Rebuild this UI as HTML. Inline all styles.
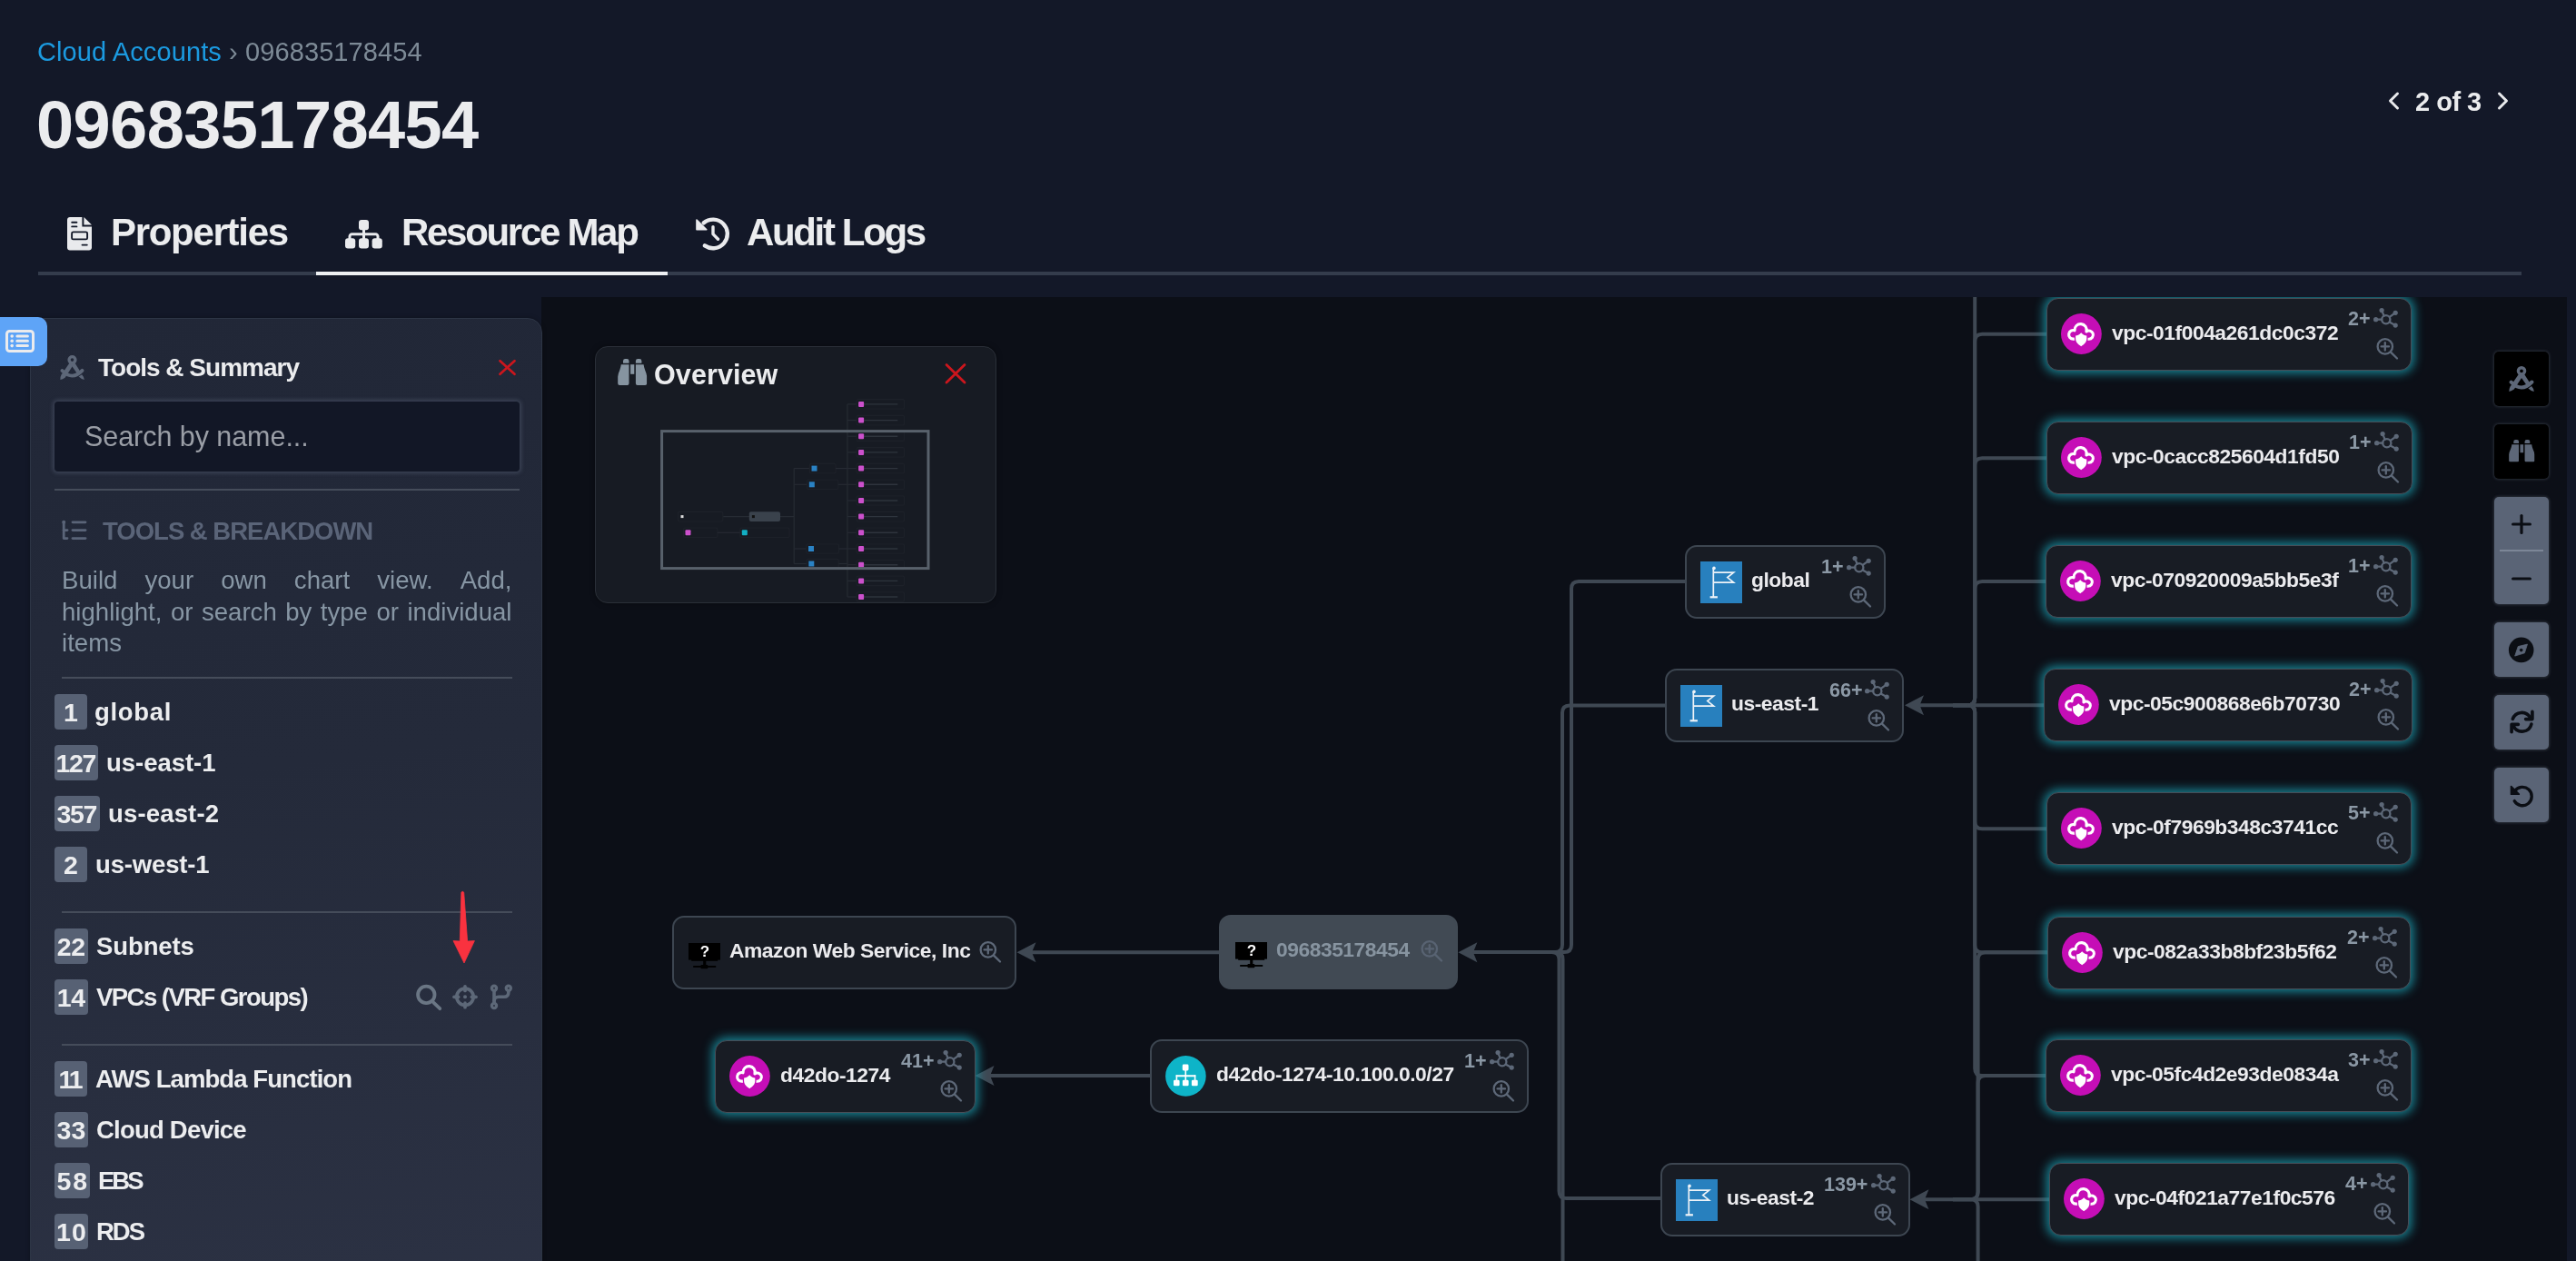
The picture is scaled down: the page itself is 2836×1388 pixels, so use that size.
<!DOCTYPE html>
<html><head><meta charset="utf-8">
<style>
*{margin:0;padding:0;box-sizing:border-box}
html,body{width:2836px;height:1388px;overflow:hidden;background:#131828;font-family:"Liberation Sans",sans-serif}
.a{position:absolute}
.t{position:absolute;white-space:nowrap;line-height:1}
svg.a,svg.ic{position:absolute;overflow:visible}
#canvas{left:596px;top:327px;width:2230px;height:1061px;background:#0c0f17;overflow:hidden;z-index:1}
.node{position:absolute;background:#181c24;border:2px solid #3d4651;border-radius:13px}
.node.glow{border-width:1.5px;border-color:#474d57;box-shadow:0 0 11px 3px rgba(26,150,168,.85)}
.node.grey{background:#414a54;border-color:#414a54}
.nic{position:absolute;left:15px;top:15.5px;overflow:visible}
.nic.fl{left:15px;top:16px}
.nic.mo{left:16px;top:28px}
.lbl{position:absolute;left:71px;top:25.1px;font-size:22.8px;line-height:22.8px;font-weight:bold;color:#ebebee;white-space:nowrap;letter-spacing:-0.45px}
.node .mo ~ .lbl{left:61.4px}
.lbl.g{color:#8794a0}
.cnt{position:absolute;right:44.3px;top:12px;font-size:21.5px;line-height:21.5px;font-weight:bold;color:#8b98a5;white-space:nowrap}
.hub{position:absolute;right:13px;top:9.6px;overflow:visible}
.zm{position:absolute;right:13px;top:43.3px;overflow:visible}
.zm.zc{right:13.9px;top:25.5px}
.grey .zm{opacity:.85}

div{will-change:transform}
.glow .lbl{top:26.1px;left:71px}

</style></head>
<body>
<svg width="0" height="0" style="position:absolute">
<defs>
<symbol id="hub" viewBox="0 0 28 23">
 <g stroke="#5d6878" stroke-width="2.3" fill="none" stroke-linecap="round">
  <circle cx="13.8" cy="12.7" r="4.6"/>
  <line x1="2.5" y1="12.7" x2="9.2" y2="12.7"/>
  <line x1="9.1" y1="2.6" x2="11.6" y2="8.6"/>
  <line x1="24" y1="5.3" x2="17.8" y2="9.9"/>
  <line x1="24" y1="19" x2="17.6" y2="15.6"/>
 </g>
 <g fill="#5d6878"><circle cx="2.6" cy="12.7" r="2.6"/><circle cx="9.1" cy="2.6" r="2.6"/><circle cx="24.2" cy="5.3" r="2.6"/><circle cx="24.2" cy="19.1" r="2.6"/></g>
</symbol>
<symbol id="zoomi" viewBox="0 0 25 25">
 <g stroke="#5d6878" stroke-width="2.3" fill="none" stroke-linecap="round">
  <circle cx="9.8" cy="9.4" r="8.2"/>
  <line x1="16" y1="15.6" x2="23" y2="22.5"/>
  <line x1="5.6" y1="9.4" x2="14" y2="9.4"/>
  <line x1="9.8" y1="5.2" x2="9.8" y2="13.6"/>
 </g>
</symbol>
<symbol id="vpcic" viewBox="0 0 45 45">
 <circle cx="22.4" cy="22.5" r="22.4" fill="#c50eb6"/>
 <path d="M13.4,28.1 A4.8,4.8 0 1 1 15.03,18.78 A6.6,6.6 0 1 1 27.95,19.99 A4.6,4.6 0 1 1 30.8,28.2 Z" fill="none" stroke="#fff" stroke-width="3.1" stroke-linejoin="round"/>
 <path d="M22.2,19.4 C19.6,22.4 17.4,23.1 14.8,23.1 L14.8,27.8 C14.8,32 18,35.3 22.2,37.6 C26.4,35.3 29.6,32 29.6,27.8 L29.6,23.1 C27,23.1 24.8,22.4 22.2,19.4 Z" fill="#c50eb6"/>
 <path d="M22.2,21.2 C20,23.6 18.1,24.4 16.1,24.4 L16.1,27.8 C16.1,31.4 18.7,34.2 22.2,36.2 C25.7,34.2 28.3,31.4 28.3,27.8 L28.3,24.4 C26.3,24.4 24.4,23.6 22.2,21.2 Z" fill="#fff"/>
</symbol>
<symbol id="flagic" viewBox="0 0 46 46">
 <rect width="46" height="46" fill="#2880be"/>
 <g stroke="#eef3f8" fill="none" stroke-width="1.7">
  <line x1="14.3" y1="7" x2="14.3" y2="39.4"/>
  <line x1="10.6" y1="39.3" x2="18.9" y2="39.3" stroke-width="2.2"/>
  <polyline points="14.3,12.2 36.6,12.2 29.8,17.6 36.6,23.1 14.3,23.1"/>
 </g>
 <circle cx="15" cy="7.4" r="1.8" fill="#eef3f8"/>
</symbol>
<symbol id="monic" viewBox="0 0 36 30">
 <rect x="0" y="0" width="35" height="18.6" fill="#000"/>
 <rect x="3.2" y="17" width="29" height="2.8" fill="#000"/>
 <rect x="16.2" y="19" width="3.1" height="6" fill="#000"/>
 <rect x="5.2" y="25" width="25" height="1.9" fill="#000"/>
 <rect x="13.5" y="23.9" width="7.8" height="4.4" rx="0.8" fill="#000"/>
 <text x="18" y="15.2" font-family="Liberation Sans" font-weight="bold" font-size="17" fill="#fff" text-anchor="middle">?</text>
</symbol>
<symbol id="subic" viewBox="0 0 45 45">
 <circle cx="22.4" cy="22.4" r="22.3" fill="#0eb4c8"/>
 <g fill="#fff">
  <rect x="18.8" y="9.6" width="6.7" height="6.8" rx="1.3"/>
  <rect x="21.5" y="16" width="1.6" height="6"/>
  <rect x="11.6" y="21.2" width="21.8" height="2" rx="0.8"/>
  <rect x="11.6" y="21.2" width="1.6" height="6"/>
  <rect x="21.5" y="21.2" width="1.6" height="6"/>
  <rect x="31.8" y="21.2" width="1.6" height="6"/>
  <rect x="9" y="26.8" width="6.6" height="6.5" rx="1.3"/>
  <rect x="18.9" y="26.8" width="6.7" height="6.5" rx="1.3"/>
  <rect x="28.9" y="26.8" width="6.8" height="6.5" rx="1.3"/>
 </g>
</symbol>
<symbol id="compassd" viewBox="0 0 28 28">
 <circle cx="14" cy="5.3" r="3.6" fill="none" stroke="currentColor" stroke-width="3.4"/>
 <path d="M11.3,8.2 L15.9,10.2 L5.8,25.6 Q3.2,27.6 0.4,27.9 Q0.1,25 1.6,22.4 Z" fill="currentColor"/>
 <path d="M16.7,8.2 L12.1,10.2 L19.6,21 L23.2,18.6 Z" fill="currentColor"/>
 <path d="M21.4,24.4 L25,22 Q27.6,24.8 27.8,27.9 Q24.2,27.3 21.4,24.4 Z" fill="currentColor"/>
 <path d="M2.6,17.6 Q14,29.4 25.4,17.5" fill="none" stroke="currentColor" stroke-width="4" stroke-linecap="round"/>
</symbol>
<symbol id="binoc" viewBox="0 0 32.4 29">
 <g fill="currentColor">
 <path d="M6,4.8 L6,2.4 Q6,0 8.4,0 L10.1,0 Q12.5,0 12.5,2.4 L12.5,4.8 Z"/>
 <path d="M19.9,4.8 L19.9,2.4 Q19.9,0 22.3,0 L24,0 Q26.4,0 26.4,2.4 L26.4,4.8 Z"/>
 <rect x="14.1" y="6.2" width="4.2" height="10.6"/>
 <path d="M3.8,6.2 L12.5,6.2 L12.5,27 Q12.5,28.9 10.6,28.9 L2.1,28.9 Q0.2,28.9 0.2,27 L0.2,19.5 Q0.4,16.5 2.2,12.5 Q3.4,9.5 3.8,6.2 Z"/>
 <path d="M28.6,6.2 L19.9,6.2 L19.9,27 Q19.9,28.9 21.8,28.9 L30.3,28.9 Q32.2,28.9 32.2,27 L32.2,19.5 Q32,16.5 30.2,12.5 Q29,9.5 28.6,6.2 Z"/>
 </g>
</symbol>
</defs>
</svg>
<div class="t" style="left:41px;top:42.5px;font-size:29px;color:#1b9ae0;letter-spacing:0.1px">Cloud Accounts <span style="color:#7d8a96">› 096835178454</span></div>
<div class="t" style="left:40px;top:100.5px;font-size:74px;font-weight:bold;color:#ebecee;letter-spacing:-0.6px">096835178454</div>
<svg class="a" style="left:74px;top:239.3px" width="27" height="37" viewBox="0 0 27 37">
 <path d="M3,0 L16.4,0 L16.4,10.5 L27,10.5 L27,33.4 C27,35.1 25.6,36.4 24,36.4 L3,36.4 C1.3,36.4 0,35.1 0,33.4 L0,3 C0,1.3 1.3,0 3,0 Z M18.4,0 L27,8.6 L18.4,8.6 Z" fill="#e9eaed"/>
 <g stroke="#131828" stroke-width="1.9" stroke-linecap="round" fill="none">
  <line x1="5.2" y1="5.8" x2="10.4" y2="5.8"/><line x1="5.2" y1="10.4" x2="10.4" y2="10.4"/>
  <rect x="5.1" y="16.4" width="17" height="8" rx="1.5"/>
  <line x1="16.5" y1="30.6" x2="21.8" y2="30.6"/>
 </g>
</svg>
<div class="t" style="left:121.5px;top:235.2px;font-size:42px;font-weight:bold;color:#ebecee;letter-spacing:-1.3px">Properties</div>
<svg class="a" style="left:380px;top:241.8px" width="41" height="32" viewBox="0 0 41 32">
 <g fill="#e9eaed">
  <rect x="15" y="0" width="11" height="11.2" rx="3"/>
  <rect x="19" y="10" width="3" height="5"/>
  <path d="M7.5,14.2 L33.5,14.2 C35.7,14.2 37.5,16 37.5,18.2 L37.5,21 L34.5,21 L34.5,18.2 C34.5,17.6 34.1,17.2 33.5,17.2 L7.5,17.2 C6.9,17.2 6.5,17.6 6.5,18.2 L6.5,21 L3.5,21 L3.5,18.2 C3.5,16 5.3,14.2 7.5,14.2 Z"/>
  <rect x="19" y="16" width="3" height="5"/>
  <rect x="0" y="20.2" width="11.2" height="11.2" rx="3"/>
  <rect x="15" y="20.2" width="11" height="11.2" rx="3"/>
  <rect x="29.6" y="20.2" width="11.2" height="11.2" rx="3"/>
 </g>
</svg>
<div class="t" style="left:442px;top:235.2px;font-size:42px;font-weight:bold;color:#ebecee;letter-spacing:-2.3px">Resource Map</div>
<svg class="a" style="left:766px;top:239px" width="38" height="37" viewBox="0 0 38 37">
 <path d="M8.84,6.3 A15.8,15.8 0 1 1 9.94,31.34" fill="none" stroke="#e9eaed" stroke-width="4.4" stroke-linecap="round"/>
 <path d="M1,3.1 L1,13.8 L11.8,13.8 Z" fill="#e9eaed" stroke="#e9eaed" stroke-width="1.6" stroke-linejoin="round"/>
 <polyline points="19,10.6 19,18.6 24.5,24.2" fill="none" stroke="#e9eaed" stroke-width="3.4" stroke-linecap="round" stroke-linejoin="round"/>
</svg>
<div class="t" style="left:822px;top:235.2px;font-size:42px;font-weight:bold;color:#ebecee;letter-spacing:-2.35px">Audit Logs</div>
<div class="a" style="left:42px;top:299px;width:2734px;height:4px;background:#343c4c"></div>
<div class="a" style="left:348px;top:299px;width:387px;height:4px;background:#eef0f3"></div>
<svg class="a" style="left:2629px;top:101px" width="13" height="20" viewBox="0 0 13 20"><polyline points="10.5,2 2.5,10 10.5,18" fill="none" stroke="#e9eaed" stroke-width="3" stroke-linecap="round" stroke-linejoin="round"/></svg>
<div class="t" style="left:2659px;top:97.5px;font-size:29px;font-weight:bold;color:#ebecee;letter-spacing:-0.5px">2 of 3</div>
<svg class="a" style="left:2748.5px;top:101px" width="13" height="20" viewBox="0 0 13 20"><polyline points="2.5,2 10.5,10 2.5,18" fill="none" stroke="#e9eaed" stroke-width="3" stroke-linecap="round" stroke-linejoin="round"/></svg>
<div class="a" id="canvas"><svg class="a" style="left:0;top:0" width="2230" height="1061" viewBox="0 0 2230 1061"><g fill="none" stroke="#3f4853" stroke-width="4"><path d="M540,721.3 L746.5,721.3"/><path d="M1026,721 L1126,721"/><path d="M1259,313 L1142,313 Q1134,313 1134,321 L1134,713 Q1134,721 1126,721 L1104,721"/><path d="M1238,449.5 L1132,449.5 Q1124,449.5 1124,457.5 L1124,713 Q1124,721 1116,721 L1104,721"/><path d="M1233,992 L1128.5,992 Q1120.5,992 1120.5,984 L1120.5,729 Q1120.5,721 1112.5,721 L1104,721"/><path d="M1124.5,1073 L1124.5,729 Q1124.5,721 1116.5,721 L1104,721"/><path d="M494,857 L670,857"/><path d="M1517,449.3 L1655,449.3"/><path d="M1657.5,40.8 L1586.2,40.8 Q1578.2,40.8 1578.2,48.8 L1578.2,441 Q1578.2,449.3 1570.2,449.3 L1554,449.3"/><path d="M1657.5,177.2 L1586.2,177.2 Q1578.2,177.2 1578.2,185.2 L1578.2,441 Q1578.2,449.3 1570.2,449.3 L1554,449.3"/><path d="M1657.3,313.0 L1586.2,313.0 Q1578.2,313.0 1578.2,321.0 L1578.2,441 Q1578.2,449.3 1570.2,449.3 L1554,449.3"/><path d="M1657.7,585.2 L1586.2,585.2 Q1578.2,585.2 1578.2,577.2 L1578.2,457 Q1578.2,449.3 1570.2,449.3 L1554,449.3"/><path d="M1659.1,721.3 L1586.2,721.3 Q1578.2,721.3 1578.2,713.3 L1578.2,457 Q1578.2,449.3 1570.2,449.3 L1554,449.3"/><path d="M1657.1,857.1 L1586.2,857.1 Q1578.2,857.1 1578.2,849.1 L1578.2,457 Q1578.2,449.3 1570.2,449.3 L1554,449.3"/><path d="M1578.2,-27 L1578.2,441 Q1578.2,449.3 1570.2,449.3"/><path d="M1523,993.2 L1660,993.2"/><path d="M1659.1,721.3 L1589.6,721.3 Q1581.6,721.3 1581.6,729.3 L1581.6,985 Q1581.6,993.2 1573.6,993.2 L1554,993.2"/><path d="M1657.1,857.1 L1589.6,857.1 Q1581.6,857.1 1581.6,865.1 L1581.6,985 Q1581.6,993.2 1573.6,993.2 L1554,993.2"/><path d="M1581.6,1073 L1581.6,1001 Q1581.6,993.2 1573.6,993.2"/></g><path d="M523.5,721.3 L544.5,710.3 L540.0,721.3 L544.5,732.3 Z" fill="#3f4853"/><path d="M1009.4,721.2 L1030.4,710.2 L1025.9,721.2 L1030.4,732.2 Z" fill="#3f4853"/><path d="M477.5,857 L498.5,846 L494.0,857 L498.5,868 Z" fill="#3f4853"/><path d="M1501,449.3 L1522,438.3 L1517.5,449.3 L1522,460.3 Z" fill="#3f4853"/><path d="M1506.5,993.2 L1527.5,982.2 L1523.0,993.2 L1527.5,1004.2 Z" fill="#3f4853"/></svg><div class="node glow" style="left:1656.5px;top:1.0px;width:402.2px;height:79.5px"><svg class="nic" width="45" height="45" viewBox="0 0 45 45"><use href="#vpcic"/></svg><div class="lbl ">vpc-01f004a261dc0c372</div><div class="cnt">2+</div><svg class="hub" width="28" height="23" viewBox="0 0 28 23"><use href="#hub"/></svg><svg class="zm" width="25" height="25" viewBox="0 0 25 25"><use href="#zoomi"/></svg></div><div class="node glow" style="left:1656.5px;top:137.4px;width:402.7px;height:79.5px"><svg class="nic" width="45" height="45" viewBox="0 0 45 45"><use href="#vpcic"/></svg><div class="lbl ">vpc-0cacc825604d1fd50</div><div class="cnt">1+</div><svg class="hub" width="28" height="23" viewBox="0 0 28 23"><use href="#hub"/></svg><svg class="zm" width="25" height="25" viewBox="0 0 25 25"><use href="#zoomi"/></svg></div><div class="node glow" style="left:1656.3px;top:273.2px;width:403.1px;height:79.5px"><svg class="nic" width="45" height="45" viewBox="0 0 45 45"><use href="#vpcic"/></svg><div class="lbl ">vpc-070920009a5bb5e3f</div><div class="cnt">1+</div><svg class="hub" width="28" height="23" viewBox="0 0 28 23"><use href="#hub"/></svg><svg class="zm" width="25" height="25" viewBox="0 0 25 25"><use href="#zoomi"/></svg></div><div class="node glow" style="left:1654.2px;top:409.1px;width:406.3px;height:79.5px"><svg class="nic" width="45" height="45" viewBox="0 0 45 45"><use href="#vpcic"/></svg><div class="lbl ">vpc-05c900868e6b70730</div><div class="cnt">2+</div><svg class="hub" width="28" height="23" viewBox="0 0 28 23"><use href="#hub"/></svg><svg class="zm" width="25" height="25" viewBox="0 0 25 25"><use href="#zoomi"/></svg></div><div class="node glow" style="left:1656.7px;top:545.4px;width:401.7px;height:79.5px"><svg class="nic" width="45" height="45" viewBox="0 0 45 45"><use href="#vpcic"/></svg><div class="lbl ">vpc-0f7969b348c3741cc</div><div class="cnt">5+</div><svg class="hub" width="28" height="23" viewBox="0 0 28 23"><use href="#hub"/></svg><svg class="zm" width="25" height="25" viewBox="0 0 25 25"><use href="#zoomi"/></svg></div><div class="node glow" style="left:1658.1px;top:681.5px;width:399.7px;height:79.5px"><svg class="nic" width="45" height="45" viewBox="0 0 45 45"><use href="#vpcic"/></svg><div class="lbl ">vpc-082a33b8bf23b5f62</div><div class="cnt">2+</div><svg class="hub" width="28" height="23" viewBox="0 0 28 23"><use href="#hub"/></svg><svg class="zm" width="25" height="25" viewBox="0 0 25 25"><use href="#zoomi"/></svg></div><div class="node glow" style="left:1656.1px;top:817.3px;width:403.1px;height:79.5px"><svg class="nic" width="45" height="45" viewBox="0 0 45 45"><use href="#vpcic"/></svg><div class="lbl ">vpc-05fc4d2e93de0834a</div><div class="cnt">3+</div><svg class="hub" width="28" height="23" viewBox="0 0 28 23"><use href="#hub"/></svg><svg class="zm" width="25" height="25" viewBox="0 0 25 25"><use href="#zoomi"/></svg></div><div class="node glow" style="left:1659.6px;top:953.4px;width:395.9px;height:79.5px"><svg class="nic" width="45" height="45" viewBox="0 0 45 45"><use href="#vpcic"/></svg><div class="lbl ">vpc-04f021a77e1f0c576</div><div class="cnt">4+</div><svg class="hub" width="28" height="23" viewBox="0 0 28 23"><use href="#hub"/></svg><svg class="zm" width="25" height="25" viewBox="0 0 25 25"><use href="#zoomi"/></svg></div><div class="node " style="left:1258.6px;top:272.6px;width:220.7px;height:80.5px"><svg class="nic fl" width="46" height="46" viewBox="0 0 46 46"><use href="#flagic"/></svg><div class="lbl ">global</div><div class="cnt">1+</div><svg class="hub" width="28" height="23" viewBox="0 0 28 23"><use href="#hub"/></svg><svg class="zm" width="25" height="25" viewBox="0 0 25 25"><use href="#zoomi"/></svg></div><div class="node " style="left:1237.2px;top:408.8px;width:263.3px;height:80.5px"><svg class="nic fl" width="46" height="46" viewBox="0 0 46 46"><use href="#flagic"/></svg><div class="lbl ">us-east-1</div><div class="cnt">66+</div><svg class="hub" width="28" height="23" viewBox="0 0 28 23"><use href="#hub"/></svg><svg class="zm" width="25" height="25" viewBox="0 0 25 25"><use href="#zoomi"/></svg></div><div class="node " style="left:1232.0px;top:953.0px;width:274.5px;height:80.5px"><svg class="nic fl" width="46" height="46" viewBox="0 0 46 46"><use href="#flagic"/></svg><div class="lbl ">us-east-2</div><div class="cnt">139+</div><svg class="hub" width="28" height="23" viewBox="0 0 28 23"><use href="#hub"/></svg><svg class="zm" width="25" height="25" viewBox="0 0 25 25"><use href="#zoomi"/></svg></div><div class="node " style="left:144.1px;top:680.5px;width:379.3px;height:81px"><svg class="nic mo" width="36" height="30" viewBox="0 0 36 30"><use href="#monic"/></svg><div class="lbl ">Amazon Web Service, Inc</div><svg class="zm zc" width="25" height="25" viewBox="0 0 25 25"><use href="#zoomi"/></svg></div><div class="node grey" style="left:746.2px;top:680.3px;width:263.0px;height:81.5px"><svg class="nic mo" width="36" height="30" viewBox="0 0 36 30"><use href="#monic"/></svg><div class="lbl g">096835178454</div><svg class="zm zc" width="25" height="25" viewBox="0 0 25 25"><use href="#zoomi"/></svg></div><div class="node glow" style="left:190.8px;top:817.7px;width:286.5px;height:79.5px"><svg class="nic" width="45" height="45" viewBox="0 0 45 45"><use href="#vpcic"/></svg><div class="lbl ">d42do-1274</div><div class="cnt">41+</div><svg class="hub" width="28" height="23" viewBox="0 0 28 23"><use href="#hub"/></svg><svg class="zm" width="25" height="25" viewBox="0 0 25 25"><use href="#zoomi"/></svg></div><div class="node " style="left:669.5px;top:816.9px;width:416.5px;height:80.5px"><svg class="nic" width="45" height="45" viewBox="0 0 45 45"><use href="#subic"/></svg><div class="lbl ">d42do-1274-10.100.0.0/27</div><div class="cnt">1+</div><svg class="hub" width="28" height="23" viewBox="0 0 28 23"><use href="#hub"/></svg><svg class="zm" width="25" height="25" viewBox="0 0 25 25"><use href="#zoomi"/></svg></div><div class="a" style="left:59px;top:54.4px;width:442px;height:282.6px;background:#171b23;border:1.5px solid #2a2f38;border-radius:14px;box-shadow:0 0 6px rgba(0,0,0,.35);z-index:5">
 <svg class="a" style="left:24.2px;top:13.3px;color:#8694a0" width="32.4" height="29" viewBox="0 0 32.4 29"><use href="#binoc"/></svg>
 <div class="t" style="left:64px;top:15.2px;font-size:30.5px;font-weight:bold;color:#ebecee;letter-spacing:0.1px">Overview</div>
 <svg class="a" style="left:384px;top:17.8px" width="24" height="23" viewBox="0 0 24 23"><g stroke="#cc161d" stroke-width="2.8" stroke-linecap="round"><line x1="2" y1="1.6" x2="22" y2="21"/><line x1="22" y1="1.6" x2="2" y2="21"/></g></svg>
 <svg class="a" style="left:0;top:0" width="442" height="283" viewBox="0 0 442 283"><g stroke="#262b33" stroke-width="1.2" fill="none"><line x1="276.9" y1="62.9" x2="276.9" y2="275.0"/><line x1="276.9" y1="62.9" x2="287.1" y2="62.9"/><rect x="287.1" y="57.7" width="52.4" height="10.4" rx="1.6" stroke="#1d2129"/><line x1="295.1" y1="62.9" x2="332.3" y2="62.9" stroke="#2e343d" stroke-width="1.4"/><line x1="276.9" y1="80.6" x2="287.1" y2="80.6"/><rect x="287.1" y="75.4" width="52.4" height="10.4" rx="1.6" stroke="#1d2129"/><line x1="295.1" y1="80.6" x2="332.3" y2="80.6" stroke="#2e343d" stroke-width="1.4"/><line x1="276.9" y1="98.2" x2="287.1" y2="98.2"/><rect x="287.1" y="93.0" width="52.4" height="10.4" rx="1.6" stroke="#1d2129"/><line x1="295.1" y1="98.2" x2="332.3" y2="98.2" stroke="#2e343d" stroke-width="1.4"/><line x1="276.9" y1="115.9" x2="287.1" y2="115.9"/><rect x="287.1" y="110.7" width="52.4" height="10.4" rx="1.6" stroke="#1d2129"/><line x1="295.1" y1="115.9" x2="332.3" y2="115.9" stroke="#2e343d" stroke-width="1.4"/><line x1="276.9" y1="133.6" x2="287.1" y2="133.6"/><rect x="287.1" y="128.4" width="52.4" height="10.4" rx="1.6" stroke="#1d2129"/><line x1="295.1" y1="133.6" x2="332.3" y2="133.6" stroke="#2e343d" stroke-width="1.4"/><line x1="276.9" y1="151.3" x2="287.1" y2="151.3"/><rect x="287.1" y="146.1" width="52.4" height="10.4" rx="1.6" stroke="#1d2129"/><line x1="295.1" y1="151.3" x2="332.3" y2="151.3" stroke="#2e343d" stroke-width="1.4"/><line x1="276.9" y1="169.0" x2="287.1" y2="169.0"/><rect x="287.1" y="163.8" width="52.4" height="10.4" rx="1.6" stroke="#1d2129"/><line x1="295.1" y1="169.0" x2="332.3" y2="169.0" stroke="#2e343d" stroke-width="1.4"/><line x1="276.9" y1="186.6" x2="287.1" y2="186.6"/><rect x="287.1" y="181.4" width="52.4" height="10.4" rx="1.6" stroke="#1d2129"/><line x1="295.1" y1="186.6" x2="332.3" y2="186.6" stroke="#2e343d" stroke-width="1.4"/><line x1="276.9" y1="204.3" x2="287.1" y2="204.3"/><rect x="287.1" y="199.1" width="52.4" height="10.4" rx="1.6" stroke="#1d2129"/><line x1="295.1" y1="204.3" x2="332.3" y2="204.3" stroke="#2e343d" stroke-width="1.4"/><line x1="276.9" y1="222.0" x2="287.1" y2="222.0"/><rect x="287.1" y="216.8" width="52.4" height="10.4" rx="1.6" stroke="#1d2129"/><line x1="295.1" y1="222.0" x2="332.3" y2="222.0" stroke="#2e343d" stroke-width="1.4"/><line x1="276.9" y1="239.7" x2="287.1" y2="239.7"/><rect x="287.1" y="234.5" width="52.4" height="10.4" rx="1.6" stroke="#1d2129"/><line x1="295.1" y1="239.7" x2="332.3" y2="239.7" stroke="#2e343d" stroke-width="1.4"/><line x1="276.9" y1="257.4" x2="287.1" y2="257.4"/><rect x="287.1" y="252.2" width="52.4" height="10.4" rx="1.6" stroke="#1d2129"/><line x1="295.1" y1="257.4" x2="332.3" y2="257.4" stroke="#2e343d" stroke-width="1.4"/><line x1="276.9" y1="275.0" x2="287.1" y2="275.0"/><rect x="287.1" y="269.8" width="52.4" height="10.4" rx="1.6" stroke="#1d2129"/><line x1="295.1" y1="275.0" x2="332.3" y2="275.0" stroke="#2e343d" stroke-width="1.4"/><line x1="218.2" y1="133.6" x2="218.2" y2="238.5"/><line x1="218.2" y1="133.6" x2="235.4" y2="133.6"/><rect x="235.4" y="128.4" width="28.6" height="10.4" rx="1.6" stroke="#1d2129"/><line x1="264.0" y1="133.6" x2="276.9" y2="133.6"/><line x1="218.2" y1="151.3" x2="232.6" y2="151.3"/><rect x="232.6" y="146.1" width="34.2" height="10.4" rx="1.6" stroke="#1d2129"/><line x1="266.8" y1="151.3" x2="276.9" y2="151.3"/><line x1="218.2" y1="222.0" x2="231.9" y2="222.0"/><rect x="231.9" y="216.8" width="35.6" height="10.4" rx="1.6" stroke="#1d2129"/><line x1="267.6" y1="222.0" x2="276.9" y2="222.0"/><line x1="218.2" y1="238.5" x2="232.2" y2="238.5"/><rect x="232.2" y="233.3" width="35.1" height="10.4" rx="1.6" stroke="#1d2129"/><line x1="267.3" y1="238.5" x2="276.9" y2="238.5"/><line x1="139.8" y1="186.6" x2="218.2" y2="186.6"/><rect x="90.5" y="181.4" width="49.3" height="10.4" rx="1.6" stroke="#1d2129"/><rect x="96.6" y="199.1" width="37.3" height="10.4" rx="1.6" stroke="#1d2129"/><rect x="158.8" y="199.1" width="54.2" height="10.4" rx="1.6" stroke="#1d2129"/><line x1="133.8" y1="204.3" x2="158.8" y2="204.3"/></g><rect x="168.8" y="181.3" width="34.2" height="10.6" rx="2" fill="#3a424c"/><rect x="289.1" y="59.9" width="6" height="6" rx="1" fill="#cc50cc"/><rect x="289.1" y="77.6" width="6" height="6" rx="1" fill="#cc50cc"/><rect x="289.1" y="95.2" width="6" height="6" rx="1" fill="#cc50cc"/><rect x="289.1" y="112.9" width="6" height="6" rx="1" fill="#cc50cc"/><rect x="289.1" y="130.6" width="6" height="6" rx="1" fill="#cc50cc"/><rect x="289.1" y="148.3" width="6" height="6" rx="1" fill="#cc50cc"/><rect x="289.1" y="166.0" width="6" height="6" rx="1" fill="#cc50cc"/><rect x="289.1" y="183.6" width="6" height="6" rx="1" fill="#cc50cc"/><rect x="289.1" y="201.3" width="6" height="6" rx="1" fill="#cc50cc"/><rect x="289.1" y="219.0" width="6" height="6" rx="1" fill="#cc50cc"/><rect x="289.1" y="236.7" width="6" height="6" rx="1" fill="#cc50cc"/><rect x="289.1" y="254.4" width="6" height="6" rx="1" fill="#cc50cc"/><rect x="289.1" y="272.0" width="6" height="6" rx="1" fill="#cc50cc"/><rect x="237.5" y="130.6" width="6" height="6" fill="#2a82c4"/><rect x="234.8" y="148.3" width="6" height="6" fill="#2a82c4"/><rect x="234.0" y="219.0" width="6" height="6" fill="#2a82c4"/><rect x="234.3" y="235.5" width="6" height="6" fill="#2a82c4"/><rect x="98.5" y="201.3" width="6" height="6" rx="1" fill="#cc50cc"/><rect x="160.8" y="201.3" width="6" height="6" rx="1" fill="#12b0c4"/><rect x="93.5" y="185.1" width="3" height="3" fill="#ddd"/><rect x="171.9" y="185.1" width="3" height="3" fill="#111"/><rect x="72.6" y="92.6" width="293.4" height="151" fill="none" stroke="#58616b" stroke-width="3"/></svg>
</div>
<div class="a" style="left:2150px;top:59.6px;width:60px;height:60px;background:#000;border-radius:5px;box-shadow:0 0 3px 1px rgba(120,130,145,.28);z-index:5"><svg class="a" style="left:16px;top:16px;color:#5d6778" width="28" height="28" viewBox="0 0 28 28"><use href="#compassd"/></svg></div>
<div class="a" style="left:2150px;top:139.8px;width:60px;height:59.5px;background:#000;border-radius:5px;box-shadow:0 0 3px 1px rgba(120,130,145,.28);z-index:5"><svg class="a" style="left:16px;top:17.2px;color:#5d6778" width="28.6" height="24.6" viewBox="0 0 32.4 29" preserveAspectRatio="none"><use href="#binoc"/></svg></div>
<div class="a" style="left:2150px;top:219.8px;width:60px;height:117.5px;background:#5a6476;border-radius:5px;box-shadow:0 0 3px 1px rgba(120,130,145,.3);z-index:5">
 <div class="a" style="left:6px;top:57.8px;width:48px;height:2px;background:#7c8697"></div>
 <svg class="a" style="left:18.5px;top:19px" width="22" height="22" viewBox="0 0 22 22"><g stroke="#0b0e14" stroke-width="3.2" stroke-linecap="round"><line x1="11" y1="1.6" x2="11" y2="20.4"/><line x1="1.6" y1="11" x2="20.4" y2="11"/></g></svg>
 <svg class="a" style="left:18.5px;top:78.5px" width="22" height="22" viewBox="0 0 22 22"><g stroke="#0b0e14" stroke-width="3.2" stroke-linecap="round"><line x1="1.6" y1="11" x2="20.4" y2="11"/></g></svg>
</div>
<div class="a" style="left:2150px;top:357.7px;width:60px;height:59.6px;background:#5a6476;border-radius:5px;box-shadow:0 0 3px 1px rgba(120,130,145,.3);z-index:5">
 <svg class="a" style="left:16.3px;top:16.2px" width="28" height="29" viewBox="0 0 28 29"><circle cx="13.7" cy="14.4" r="13.8" fill="#0b0e14"/><path d="M20.5,8.1 L17.4,17.8 L6.7,21.1 L10.2,10.6 Z" fill="#5a6476" stroke="#5a6476" stroke-width="0.8" stroke-linejoin="round"/><circle cx="13.7" cy="14.6" r="1.8" fill="#0b0e14"/></svg>
</div>
<div class="a" style="left:2150px;top:437.5px;width:60px;height:59.6px;background:#5a6476;border-radius:5px;box-shadow:0 0 3px 1px rgba(120,130,145,.3);z-index:5">
 <svg class="a" style="left:16.5px;top:17.4px" width="27" height="26" viewBox="0 0 27 26"><g fill="none" stroke="#0b0e14" stroke-width="3.6" stroke-linecap="round" stroke-linejoin="round"><path d="M3.3,9.4 A10.6,10.6 0 0 1 22.6,8"/><polyline points="24.9,1.3 24.9,9.6 17.6,9.6"/><path d="M23.9,15.1 A10.6,10.6 0 0 1 4.2,17.4"/><polyline points="2.1,23.7 2.1,15.4 9.4,15.4"/></g></svg>
</div>
<div class="a" style="left:2150px;top:517.8px;width:60px;height:59.6px;background:#5a6476;border-radius:5px;box-shadow:0 0 3px 1px rgba(120,130,145,.3);z-index:5">
 <svg class="a" style="left:16.5px;top:18.5px" width="27" height="25" viewBox="0 0 27 25"><path d="M5.6,6.8 A10.2,10.2 0 1 1 5.2,17.6" fill="none" stroke="#0b0e14" stroke-width="3.3" stroke-linecap="round"/><path d="M1.6,1.6 L1.6,10.2 L10.2,10.2 Z" fill="#0b0e14" stroke="#0b0e14" stroke-width="1.8" stroke-linejoin="round"/></svg>
</div>
</div><div class="a" id="panel" style="left:32.5px;top:349.5px;width:564px;height:1100px;background:linear-gradient(172deg,#212737 0%,#242a3a 45%,#2c3244 100%);border-radius:14px 16px 0 0;border:1px solid #2d3545;box-shadow:0 0 5px rgba(0,0,0,.3);z-index:2"></div>
<div class="a" style="left:0;top:348.8px;width:52px;height:54.3px;background:#5ea4f7;border-radius:0 10px 10px 0;z-index:4"></div>
<svg class="a" style="left:6px;top:363px;z-index:5" width="33" height="26" viewBox="0 0 33 26">
 <rect x="1.5" y="1.5" width="29" height="22" rx="3" fill="none" stroke="#ebebed" stroke-width="3"/>
 <g fill="#ebebed"><circle cx="7.2" cy="7" r="1.8"/><circle cx="7.2" cy="12.3" r="1.8"/><circle cx="7.2" cy="17.6" r="1.8"/>
 <rect x="11.4" y="5.5" width="14.5" height="3" rx="1.5"/><rect x="11.4" y="10.8" width="14.5" height="3" rx="1.5"/><rect x="11.4" y="16.1" width="14.5" height="3" rx="1.5"/></g>
</svg>
<div class="a" style="z-index:3;left:0;top:0">
<svg class="a" style="left:65.5px;top:390.5px;color:#5d6778" width="27" height="27" viewBox="0 0 28 28"><use href="#compassd"/></svg>
<div class="t" style="left:107.5px;top:390.6px;font-size:28px;font-weight:bold;color:#ebecee;letter-spacing:-1px">Tools &amp; Summary</div>
<svg class="a" style="left:549px;top:396px" width="19" height="17" viewBox="0 0 19 17"><g stroke="#cc161d" stroke-width="2.6" stroke-linecap="round"><line x1="1.5" y1="1.2" x2="17.5" y2="15.8"/><line x1="17.5" y1="1.2" x2="1.5" y2="15.8"/></g></svg>
<div class="a" style="left:60px;top:441.5px;width:512px;height:76.5px;background:#121726;border-radius:4px;box-shadow:0 0 4px 1.5px rgba(80,90,110,.55)"></div>
<div class="t" style="left:93.2px;top:465.2px;font-size:30.5px;color:#9a9ea6;letter-spacing:-0.05px">Search by name...</div>
<div class="a" style="left:60px;top:538px;width:512px;height:2px;background:#454c5a"></div>
<svg class="a" style="left:68px;top:572.5px" width="28" height="22" viewBox="0 0 28 22"><g fill="none" stroke="#5a6478" stroke-width="2.8" stroke-linecap="round" stroke-linejoin="round"><polyline points="2.2,1.6 2.2,19.6 6,19.6"/><line x1="2.2" y1="10.6" x2="6" y2="10.6"/><line x1="12" y1="1.8" x2="26" y2="1.8"/><line x1="12" y1="10.6" x2="26" y2="10.6"/><line x1="12" y1="19.6" x2="26" y2="19.6"/></g><circle cx="2.2" cy="1.8" r="2" fill="#5a6478"/></svg>
<div class="t" style="left:112.5px;top:570.5px;font-size:27.5px;font-weight:bold;color:#5a6478;letter-spacing:-1px">TOOLS &amp; BREAKDOWN</div>
<div class="a" style="left:68px;top:622px;width:495.5px;font-size:27.6px;line-height:34.6px;color:#8796a4">
 <div style="text-align:justify;text-align-last:justify;height:34.6px;white-space:nowrap;display:flex;justify-content:space-between"><span>Build</span><span>your</span><span>own</span><span>chart</span><span>view.</span><span>Add,</span></div>
 <div style="text-align:justify;text-align-last:justify;height:34.6px;white-space:nowrap;display:flex;justify-content:space-between"><span>highlight,</span><span>or</span><span>search</span><span>by</span><span>type</span><span>or</span><span>individual</span></div>
 <div style="height:34.6px">items</div>
</div>
<div class="a" style="left:68px;top:745px;width:496px;height:2px;background:#454c5a"></div>
<div class="a" style="left:68px;top:1003px;width:496px;height:2px;background:#454c5a"></div>
<div class="a" style="left:68px;top:1149px;width:496px;height:2px;background:#454c5a"></div>
<div class="a" style="left:60px;top:763.9px;width:35.7px;height:38.5px;background:#576174;border-radius:4px"></div><div class="t" style="left:60px;width:35.7px;text-align:center;top:769.5px;font-size:28.5px;font-weight:bold;color:#ecedef;letter-spacing:-1.6px;text-indent:-1.6px">1</div><div class="t" style="left:104.4px;top:769.8px;font-size:27.5px;font-weight:bold;color:#ecedef;letter-spacing:0.66px">global</div><div class="a" style="left:60px;top:820.0px;width:47.9px;height:38.5px;background:#576174;border-radius:4px"></div><div class="t" style="left:60px;width:47.9px;text-align:center;top:825.6px;font-size:28.5px;font-weight:bold;color:#ecedef;letter-spacing:-1.4px;text-indent:-1.4px">127</div><div class="t" style="left:117.0px;top:825.9px;font-size:27.5px;font-weight:bold;color:#ecedef;letter-spacing:-0.04px">us-east-1</div><div class="a" style="left:60px;top:876.0px;width:50.0px;height:38.5px;background:#576174;border-radius:4px"></div><div class="t" style="left:60px;width:50.0px;text-align:center;top:881.6px;font-size:28.5px;font-weight:bold;color:#ecedef;letter-spacing:-1.3px;text-indent:-1.3px">357</div><div class="t" style="left:118.8px;top:881.9px;font-size:27.5px;font-weight:bold;color:#ecedef;letter-spacing:0.16px">us-east-2</div><div class="a" style="left:60px;top:932.0px;width:35.7px;height:38.5px;background:#576174;border-radius:4px"></div><div class="t" style="left:60px;width:35.7px;text-align:center;top:937.6px;font-size:28.5px;font-weight:bold;color:#ecedef;letter-spacing:-1.6px;text-indent:-1.6px">2</div><div class="t" style="left:104.5px;top:937.9px;font-size:27.5px;font-weight:bold;color:#ecedef;letter-spacing:-0.16px">us-west-1</div><div class="a" style="left:60px;top:1022.4px;width:36.8px;height:38.5px;background:#576174;border-radius:4px"></div><div class="t" style="left:60px;width:36.8px;text-align:center;top:1028.0px;font-size:28.5px;font-weight:bold;color:#ecedef;letter-spacing:-0.5px;text-indent:-0.5px">22</div><div class="t" style="left:105.5px;top:1028.3px;font-size:27.5px;font-weight:bold;color:#ecedef;letter-spacing:-0.1px">Subnets</div><div class="a" style="left:60px;top:1078.4px;width:36.8px;height:38.5px;background:#576174;border-radius:4px"></div><div class="t" style="left:60px;width:36.8px;text-align:center;top:1084.0px;font-size:28.5px;font-weight:bold;color:#ecedef;letter-spacing:-0.5px;text-indent:-0.5px">14</div><div class="t" style="left:105.5px;top:1084.3px;font-size:27.5px;font-weight:bold;color:#ecedef;letter-spacing:-1.54px">VPCs (VRF Groups)</div><div class="a" style="left:60px;top:1168.3px;width:36.0px;height:38.5px;background:#576174;border-radius:4px"></div><div class="t" style="left:60px;width:36.0px;text-align:center;top:1173.9px;font-size:28.5px;font-weight:bold;color:#ecedef;letter-spacing:-2.9px;text-indent:-2.9px">11</div><div class="t" style="left:104.8px;top:1174.2px;font-size:27.5px;font-weight:bold;color:#ecedef;letter-spacing:-0.91px">AWS Lambda Function</div><div class="a" style="left:60px;top:1224.3px;width:37.0px;height:38.5px;background:#576174;border-radius:4px"></div><div class="t" style="left:60px;width:37.0px;text-align:center;top:1229.9px;font-size:28.5px;font-weight:bold;color:#ecedef;letter-spacing:0.2px;text-indent:0.2px">33</div><div class="t" style="left:106.0px;top:1230.2px;font-size:27.5px;font-weight:bold;color:#ecedef;letter-spacing:-0.78px">Cloud Device</div><div class="a" style="left:60px;top:1280.0px;width:38.8px;height:38.5px;background:#576174;border-radius:4px"></div><div class="t" style="left:60px;width:38.8px;text-align:center;top:1285.6px;font-size:28.5px;font-weight:bold;color:#ecedef;letter-spacing:1.9px;text-indent:1.9px">58</div><div class="t" style="left:108.2px;top:1285.9px;font-size:27.5px;font-weight:bold;color:#ecedef;letter-spacing:-3.0px">EBS</div><div class="a" style="left:60px;top:1336.3px;width:37.0px;height:38.5px;background:#576174;border-radius:4px"></div><div class="t" style="left:60px;width:37.0px;text-align:center;top:1341.9px;font-size:28.5px;font-weight:bold;color:#ecedef;letter-spacing:1.2px;text-indent:1.2px">10</div><div class="t" style="left:106.4px;top:1342.2px;font-size:27.5px;font-weight:bold;color:#ecedef;letter-spacing:-2.0px">RDS</div>
<svg class="a" style="left:458px;top:1084px" width="28" height="28" viewBox="0 0 28 28"><g fill="none" stroke="#6a7684" stroke-width="3.8" stroke-linecap="round"><circle cx="11.3" cy="10.9" r="9.2"/><line x1="19.4" y1="19.6" x2="26.3" y2="26.2"/></g></svg>
<svg class="a" style="left:498px;top:1084px" width="28" height="28" viewBox="0 0 28 28"><g fill="none" stroke="#5d6878" stroke-width="3.7" stroke-linecap="round"><circle cx="14" cy="13.3" r="9.2"/><line x1="14" y1="1.9" x2="14" y2="6.4"/><line x1="14" y1="20.2" x2="14" y2="24.7"/><line x1="2" y1="13.3" x2="6.6" y2="13.3"/><line x1="21.4" y1="13.3" x2="26" y2="13.3"/></g><circle cx="14" cy="13.3" r="2" fill="#5d6878"/></svg>
<svg class="a" style="left:539px;top:1084px" width="28" height="28" viewBox="0 0 28 28"><g fill="none" stroke="#5d6878" stroke-linecap="round"><g stroke-width="3.2"><circle cx="5" cy="3.8" r="2.6"/><circle cx="20.8" cy="3.8" r="2.6"/><circle cx="5" cy="23" r="2.6"/></g><g stroke-width="3.6"><line x1="5" y1="6.6" x2="5" y2="20.2"/><path d="M20.8,6.6 L20.8,8.5 Q20.8,13.3 16,13.3 L10,13.3 Q5,13.3 5,18"/></g></g></svg>
<svg class="a" style="left:497px;top:980px" width="27" height="81" viewBox="0 0 27 81"><path d="M10.9,2.2 Q12.3,0.4 13.7,2.2 L17.6,56 L25.4,55.6 L14,80 L2,55.6 L9.3,56 Z" fill="#f9323f" stroke="#f9323f" stroke-width="0.8" stroke-linejoin="round"/></svg>
</div>

</body></html>
